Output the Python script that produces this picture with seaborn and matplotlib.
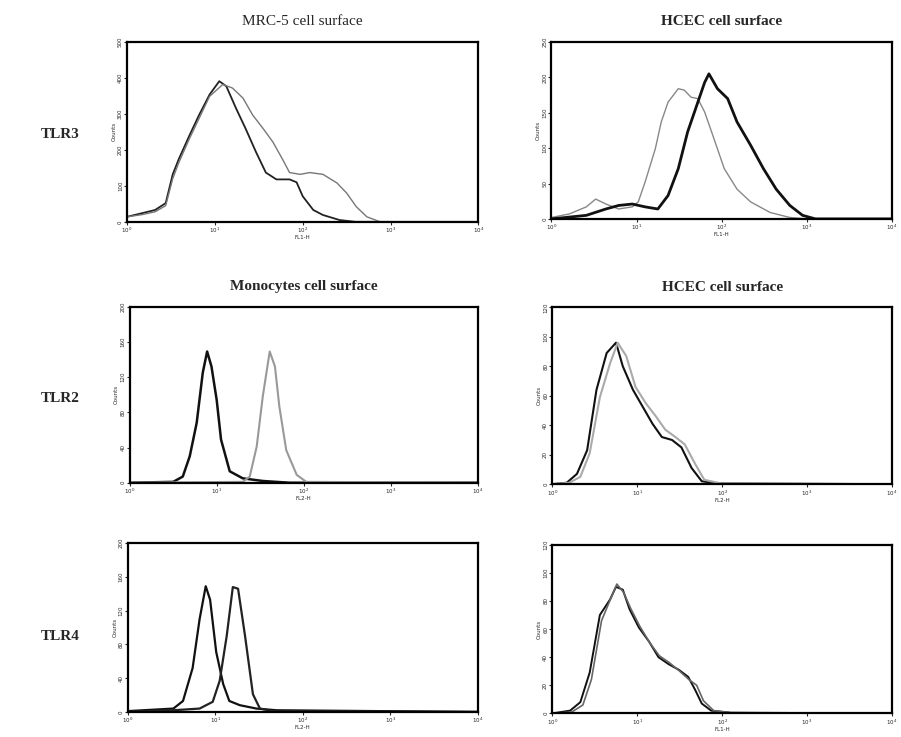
import numpy as np
import pandas as pd
import matplotlib.pyplot as plt
import seaborn as sns

# x in log10 decades, y in counts
mrc5_x_ctrl = [0, 0.17, 0.32, 0.44, 0.52, 0.59, 0.71, 0.82, 0.94, 1.05, 1.13, 1.24, 1.35, 1.47, 1.58, 1.70, 1.85, 1.93, 2.0, 2.12, 2.23, 2.42, 2.6, 4.0]
mrc5_y_ctrl = [14, 24, 33, 52, 132, 175, 240, 297, 354, 391, 377, 316, 259, 193, 137, 118, 118, 110, 71, 33, 19, 5, 0, 0]
mrc5_x_tlr = [0, 0.17, 0.32, 0.44, 0.52, 0.59, 0.71, 0.94, 1.09, 1.2, 1.32, 1.43, 1.55, 1.66, 1.77, 1.85, 1.97, 2.08, 2.23, 2.39, 2.5, 2.61, 2.73, 2.88, 4.0]
mrc5_y_tlr = [14, 20, 28, 45, 120, 165, 231, 349, 382, 372, 344, 297, 259, 222, 174, 137, 132, 137, 132, 108, 80, 42, 14, 0, 0]

hcec3_x_ctrl = [0, 0.21, 0.41, 0.52, 0.64, 0.79, 0.95, 1.02, 1.1, 1.22, 1.29, 1.37, 1.49, 1.56, 1.64, 1.72, 1.8, 1.91, 2.03, 2.18, 2.34, 2.57, 2.8, 3.0, 4.0]
hcec3_y_ctrl = [2, 7, 17, 28, 21, 14, 17, 24, 52, 99, 137, 165, 184, 182, 172, 170, 151, 113, 71, 42, 24, 9, 2, 0, 0]
hcec3_x_tlr = [0, 0.41, 0.64, 0.79, 0.95, 1.1, 1.25, 1.37, 1.49, 1.6, 1.72, 1.8, 1.85, 1.95, 2.07, 2.18, 2.34, 2.49, 2.64, 2.8, 2.95, 3.1, 4.0]
hcec3_y_tlr = [0, 5, 14, 19, 21, 17, 14, 33, 71, 123, 165, 193, 205, 184, 170, 137, 104, 71, 42, 19, 5, 0, 0]

mono_x_ctrl = [0, 0.5, 0.61, 0.69, 0.77, 0.84, 0.89, 0.94, 1.0, 1.05, 1.15, 1.3, 1.53, 1.84, 4.0]
mono_y_ctrl = [0, 1, 7, 30, 68, 125, 149, 132, 94, 49, 13, 5, 2, 0, 0]
mono_x_tlr = [0, 1.3, 1.38, 1.46, 1.53, 1.61, 1.67, 1.72, 1.8, 1.92, 2.03, 4.0]
mono_y_tlr = [0, 1, 7, 41, 98, 149, 132, 87, 37, 9, 1, 0]

hcec2_x_ctrl = [0, 0.17, 0.29, 0.41, 0.52, 0.64, 0.75, 0.83, 0.95, 1.06, 1.18, 1.29, 1.41, 1.52, 1.64, 1.76, 1.95, 4.0]
hcec2_y_ctrl = [0, 1, 7, 23, 64, 89, 96, 80, 64, 53, 41, 32, 30, 25, 11, 2, 0.5, 0]
hcec2_x_tlr = [0, 0.2, 0.33, 0.44, 0.56, 0.68, 0.77, 0.87, 0.98, 1.1, 1.22, 1.33, 1.45, 1.56, 1.68, 1.79, 1.99, 4.0]
hcec2_y_tlr = [0, 1, 5, 21, 59, 82, 96, 87, 66, 55, 46, 37, 32, 27, 14, 3, 0.5, 0]

mono4_x_ctrl = [0, 0.52, 0.63, 0.74, 0.82, 0.89, 0.94, 1.01, 1.09, 1.16, 1.28, 1.47, 1.7, 4.0]
mono4_y_ctrl = [1, 4, 13, 52, 110, 149, 133, 71, 33, 13, 8, 4, 2, 0]
mono4_x_tlr = [0, 0.52, 0.82, 0.97, 1.05, 1.13, 1.2, 1.26, 1.34, 1.43, 1.51, 1.66, 4.0]
mono4_y_tlr = [0, 2, 4, 12, 37, 90, 148, 146, 90, 21, 4, 1, 0]

hcec4_x_ctrl = [0, 0.21, 0.33, 0.44, 0.56, 0.68, 0.75, 0.83, 0.91, 1.02, 1.14, 1.25, 1.37, 1.49, 1.6, 1.68, 1.76, 1.87, 2.1, 4.0]
hcec4_y_ctrl = [0, 2, 8, 29, 70, 81, 90, 88, 74, 61, 51, 40, 35, 31, 26, 17, 7, 2, 0.5, 0]
hcec4_x_tlr = [0, 0.23, 0.36, 0.46, 0.58, 0.69, 0.76, 0.84, 0.92, 1.03, 1.15, 1.26, 1.38, 1.5, 1.61, 1.7, 1.78, 1.9, 2.1, 4.0]
hcec4_y_tlr = [0, 1, 6, 24, 66, 82, 92, 86, 75, 62, 50, 41, 36, 30, 24, 20, 9, 2, 0.5, 0]

titles = ["MRC-5 cell surface", "HCEC cell surface", "Monocytes cell surface",
          "HCEC cell surface", "", ""]
row_labels = ["TLR3", "TLR2", "TLR4"]
xlabels = ["FL1-H", "FL1-H", "FL2-H", "FL2-H", "FL2-H", "FL1-H"]
ymax = [500, 250, 200, 120, 200, 120]
ystep = [100, 50, 40, 20, 40, 20]

panels = [
    (mrc5_x_ctrl, mrc5_y_ctrl, mrc5_x_tlr, mrc5_y_tlr),
    (hcec3_x_ctrl, hcec3_y_ctrl, hcec3_x_tlr, hcec3_y_tlr),
    (mono_x_ctrl, mono_y_ctrl, mono_x_tlr, mono_y_tlr),
    (hcec2_x_ctrl, hcec2_y_ctrl, hcec2_x_tlr, hcec2_y_tlr),
    (mono4_x_ctrl, mono4_y_ctrl, mono4_x_tlr, mono4_y_tlr),
    (hcec4_x_ctrl, hcec4_y_ctrl, hcec4_x_tlr, hcec4_y_tlr),
]
# (color, width) for first and second curve of each panel
styles = [
    (("#222222", 1.3), ("#777777", 1.0)),
    (("#888888", 1.0), ("#111111", 2.0)),
    (("#111111", 1.8), ("#999999", 1.5)),
    (("#111111", 1.5), ("#aaaaaa", 1.5)),
    (("#111111", 1.6), ("#222222", 1.6)),
    (("#111111", 1.4), ("#666666", 1.2)),
]

boxes = [
    [0.141, 0.699, 0.390, 0.244],
    [0.612, 0.703, 0.378, 0.240],
    [0.144, 0.345, 0.386, 0.239],
    [0.613, 0.343, 0.377, 0.240],
    [0.142, 0.034, 0.388, 0.229],
    [0.613, 0.032, 0.377, 0.229],
]

sns.set_style("white")
fig = plt.figure(figsize=(9.01, 7.37), dpi=100)

for i, (xa, ya, xb, yb) in enumerate(panels):
    ax = fig.add_axes(boxes[i])
    (ca, wa), (cb, wb) = styles[i]
    da = pd.DataFrame({"x": np.power(10.0, xa), "y": ya})
    db = pd.DataFrame({"x": np.power(10.0, xb), "y": yb})
    sns.lineplot(data=da, x="x", y="y", ax=ax, color=ca, linewidth=wa)
    sns.lineplot(data=db, x="x", y="y", ax=ax, color=cb, linewidth=wb)
    ax.set_xscale("log")
    ax.set_xlim(1, 1e4)
    ax.set_ylim(0, ymax[i])
    ax.set_xticks([1, 10, 100, 1000, 10000])
    ax.set_xticklabels([r"$10^0$", r"$10^1$", r"$10^2$", r"$10^3$", r"$10^4$"], fontsize=4)
    ax.xaxis.set_minor_locator(plt.NullLocator())
    yt = list(range(0, ymax[i] + 1, ystep[i]))
    ax.set_yticks(yt)
    ax.set_yticklabels([str(v) for v in yt], fontsize=4, rotation=90, va="center")
    ax.tick_params(axis="both", length=2, width=0.8, pad=1, direction="out",
                   bottom=True, left=True)
    ax.set_xlabel(xlabels[i], fontsize=4, labelpad=0)
    ax.set_ylabel("Counts", fontsize=4, labelpad=1)
    for s in ax.spines.values():
        s.set_linewidth(1.6)
        s.set_color("black")
    if titles[i]:
        ax.set_title(titles[i], fontsize=11, family="Liberation Serif",
                     fontweight="bold" if i else "normal", pad=12)

for lbl, y in zip(row_labels, [134, 398, 637]):
    fig.text(60 / 901, 1 - y / 737, lbl, fontsize=11, family="Liberation Serif",
             fontweight="bold", ha="center", va="center")

fig.savefig("out.png", dpi=100)
